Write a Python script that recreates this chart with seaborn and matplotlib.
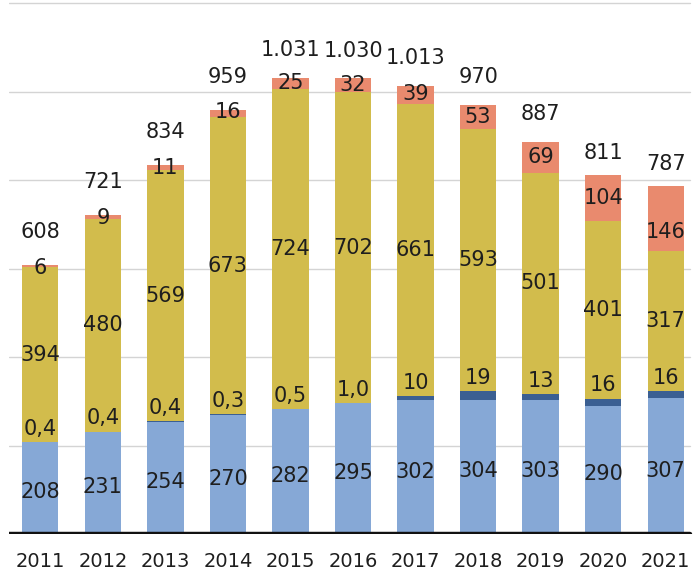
import matplotlib
matplotlib.use("Agg")
import matplotlib.pyplot as plt
import seaborn as sns
import pandas as pd

years = ["2011", "2012", "2013", "2014", "2015", "2016", "2017", "2018", "2019", "2020", "2021"]
light_blue = [208, 231, 254, 270, 282, 295, 302, 304, 303, 290, 307]
dark_blue = [0.4, 0.4, 0.4, 0.3, 0.5, 1.0, 10, 19, 13, 16, 16]
yellow = [394, 480, 569, 673, 724, 702, 661, 593, 501, 401, 317]
salmon = [6, 9, 11, 16, 25, 32, 39, 53, 69, 104, 146]
totals = [608, 721, 834, 959, 1031, 1030, 1013, 970, 887, 811, 787]

C_LIGHT = "#86a8d6"
C_DARK = "#3b5f92"
C_YELLOW = "#d2bc4c"
C_SALMON = "#e98a6e"
TXT = "#1e1e1e"

sns.set_theme(style="white")
plt.rcParams["font.family"] = ["DejaVu Sans"]

df = pd.DataFrame({
    "year": years,
    "lb": light_blue,
    "db": dark_blue,
    "ye": yellow,
    "sa": salmon,
    "total": totals,
})
df["cum_db"] = df["lb"] + df["db"]
df["cum_ye"] = df["cum_db"] + df["ye"]

fig = plt.figure(figsize=(7.0, 5.74), dpi=100)
ax = fig.add_axes([9 / 700, 40 / 574, 688 / 700, 534 / 574])

# gridlines behind the bars
for v in range(200, 1400, 200):
    ax.axhline(v, xmax=0.99, color="#d4d4d4", lw=1.0, zorder=0)

W = 0.58
bar_kw = dict(width=W, saturation=1, linewidth=0, edgecolor="none", ax=ax)
# stacked bars drawn back to front as cumulative heights
sns.barplot(data=df, x="year", y="total", color=C_SALMON, zorder=2, **bar_kw)
sns.barplot(data=df, x="year", y="cum_ye", color=C_YELLOW, zorder=3, **bar_kw)
sns.barplot(data=df, x="year", y="cum_db", color=C_DARK, zorder=4, **bar_kw)
sns.barplot(data=df, x="year", y="lb", color=C_LIGHT, zorder=5, **bar_kw)


def fmt_total(v):
    return f"{int(round(v)):,}".replace(",", ".")


def fmt_small(v):
    return f"{v:.1f}".replace(".", ",") if v < 5 else str(int(v))


FS = 15
for i, r in df.iterrows():
    ax.text(i, r["lb"] / 2 - 10, str(r["lb"]), ha="center", va="center", fontsize=FS, color=TXT, zorder=10)
    ax.text(i, r["cum_db"] + 30, fmt_small(r["db"]), ha="center", va="center", fontsize=FS, color=TXT, zorder=10)
    ax.text(i, r["cum_db"] + r["ye"] / 2, str(r["ye"]), ha="center", va="center", fontsize=FS, color=TXT, zorder=10)
    s_off = r["sa"] * 0.5 if r["sa"] >= 20 else 6
    if r["sa"] >= 140:
        s_off = r["sa"] * 0.72
    ax.text(i, r["total"] - s_off, str(r["sa"]), ha="center", va="center", fontsize=FS, color=TXT, zorder=10)
    t_off = 74 if r["sa"] < 20 else 62
    if r["sa"] >= 100:
        t_off = 50
    ax.text(i, r["total"] + t_off, fmt_total(r["total"]), ha="center", va="center", fontsize=FS, color=TXT, zorder=10)

ax.axhline(0, xmax=0.99, color="#111111", lw=3.2, zorder=6)
ax.set_ylim(0, 1207)
ax.set_xlim(-0.5, 10.5)
ax.set_xlabel("")
ax.set_ylabel("")
ax.set_yticks([])
ax.tick_params(axis="x", length=0, pad=13, labelsize=14, labelcolor=TXT)
for sp in ax.spines.values():
    sp.set_visible(False)

fig.savefig("out.png", dpi=100, facecolor="white")
